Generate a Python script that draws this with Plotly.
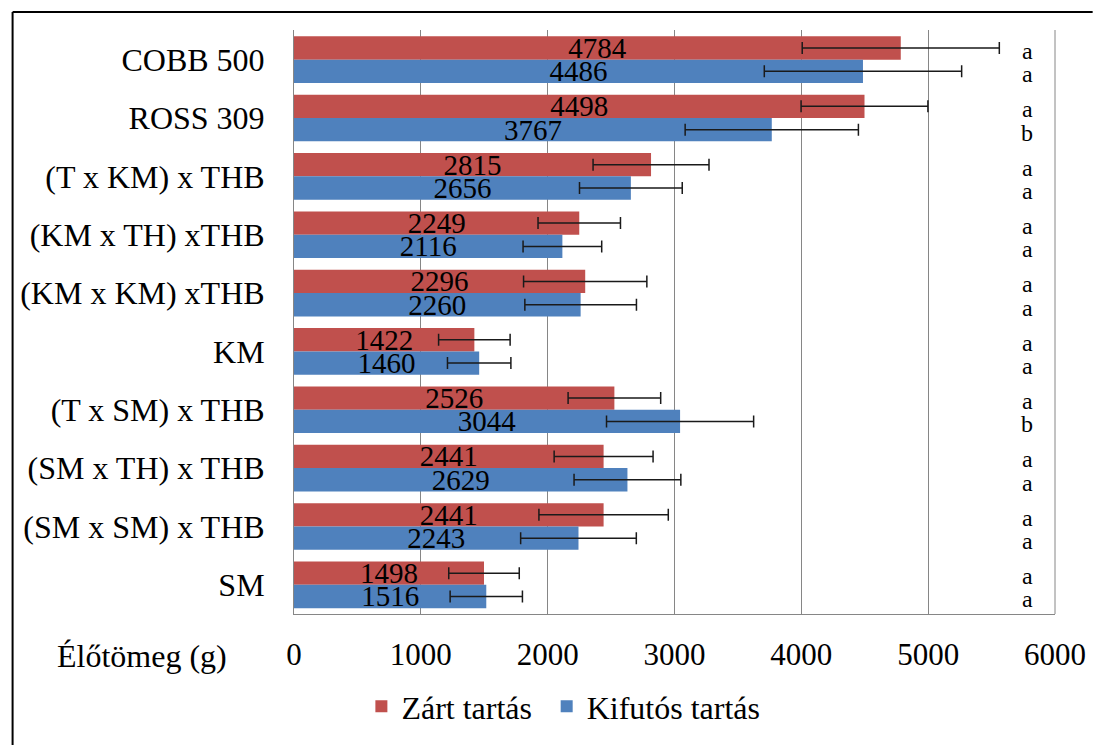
import plotly.graph_objects as go

categories = ["COBB 500", "ROSS 309", "(T x KM) x THB", "(KM x TH) xTHB", "(KM x KM) xTHB",
              "KM", "(T x SM) x THB", "(SM x TH) x THB", "(SM x SM) x THB", "SM"]
zart = [4784, 4498, 2815, 2249, 2296, 1422, 2526, 2441, 2441, 1498]
kifutos = [4486, 3767, 2656, 2116, 2260, 1460, 3044, 2629, 2243, 1516]
zart_err = [777, 500, 457, 325, 486, 282, 365, 390, 510, 278]
kifutos_err = [778, 683, 405, 310, 440, 250, 580, 421, 456, 285]
zart_letters = ["a", "a", "a", "a", "a", "a", "a", "a", "a", "a"]
kifutos_letters = ["a", "b", "a", "a", "a", "a", "b", "a", "a", "a"]
x_ticks = [0, 1000, 2000, 3000, 4000, 5000, 6000]
letter_x = 5780

FONT = "Liberation Serif"
RED = "#C0504D"
BLUE = "#4F81BD"
GRID = "#868686"

fig = go.Figure()
for name, vals, errs, color, leg in [("Zárt tartás", zart, zart_err, RED, "legend"),
                                     ("Kifutós tartás", kifutos, kifutos_err, BLUE, "legend2")]:
    fig.add_trace(go.Bar(
        name=name, y=categories, x=vals, orientation="h", legend=leg,
        marker=dict(color=color, line=dict(width=0)),
        text=[str(v) for v in vals], textposition="inside", insidetextanchor="middle",
        constraintext="none",
        textfont=dict(family=FONT, size=29, color="black"),
        error_x=dict(type="data", array=errs, visible=True, color="#1a1a1a",
                     thickness=1.5, width=6),
    ))

# significance letters
n = len(categories)
for i in range(n):
    fig.add_annotation(x=letter_x, y=i - 0.2, xref="x", yref="y", text=zart_letters[i],
                       showarrow=False, yshift=-3,
                       font=dict(family=FONT, size=24, color="black"))
    fig.add_annotation(x=letter_x, y=i + 0.2, xref="x", yref="y", text=kifutos_letters[i],
                       showarrow=False, yshift=-3,
                       font=dict(family=FONT, size=24, color="black"))

# axis title
fig.add_annotation(x=(141 - 294) / 768, y=(618 - 660) / 588, xref="paper", yref="paper",
                   text="Élőtömeg (g)", showarrow=False, xanchor="center", yanchor="middle",
                   font=dict(family=FONT, size=32, color="black"))

# outer border (left and top)
fig.add_shape(type="line", xref="paper", yref="paper",
              x0=(10 - 294) / 768, x1=(1100 - 294) / 768, y0=(618 - 12) / 588, y1=(618 - 12) / 588,
              line=dict(color="black", width=2))
fig.add_shape(type="line", xref="paper", yref="paper",
              x0=(10 - 294) / 768, x1=(10 - 294) / 768, y0=(618 - 12) / 588, y1=(618 - 750) / 588,
              line=dict(color="black", width=2))

legend_common = dict(orientation="h", xanchor="left", y=(618 - 711) / 588, yanchor="middle",
                     font=dict(family=FONT, size=32, color="black"),
                     bgcolor="rgba(0,0,0,0)")

fig.update_layout(
    width=1098, height=746,
    margin=dict(l=294, r=36, t=30, b=128),
    paper_bgcolor="white", plot_bgcolor="white",
    barmode="group", bargap=0.2, bargroupgap=0,
    font=dict(family=FONT, color="black"),
    showlegend=True,
    legend=dict(x=(362 - 294) / 768, **legend_common),
    legend2=dict(x=(549 - 294) / 768, **legend_common),
    xaxis=dict(range=[0, 6000], tickvals=x_ticks, ticktext=[str(t) for t in x_ticks],
               showgrid=True, gridcolor=GRID, gridwidth=1,
               showline=True, linecolor=GRID, linewidth=1, mirror=False,
               zeroline=False, ticks="", ticklabelstandoff=13,
               tickfont=dict(family=FONT, size=31, color="black")),
    yaxis=dict(autorange="reversed", type="category",
               showgrid=False, showline=True, linecolor=GRID, linewidth=1,
               ticks="", ticklabelstandoff=22,
               tickfont=dict(family=FONT, size=32, color="black")),
)
fig.add_shape(type="line", xref="paper", yref="paper", x0=1, x1=1, y0=0, y1=1,
              line=dict(color=GRID, width=1))

fig.write_html("out.html")
